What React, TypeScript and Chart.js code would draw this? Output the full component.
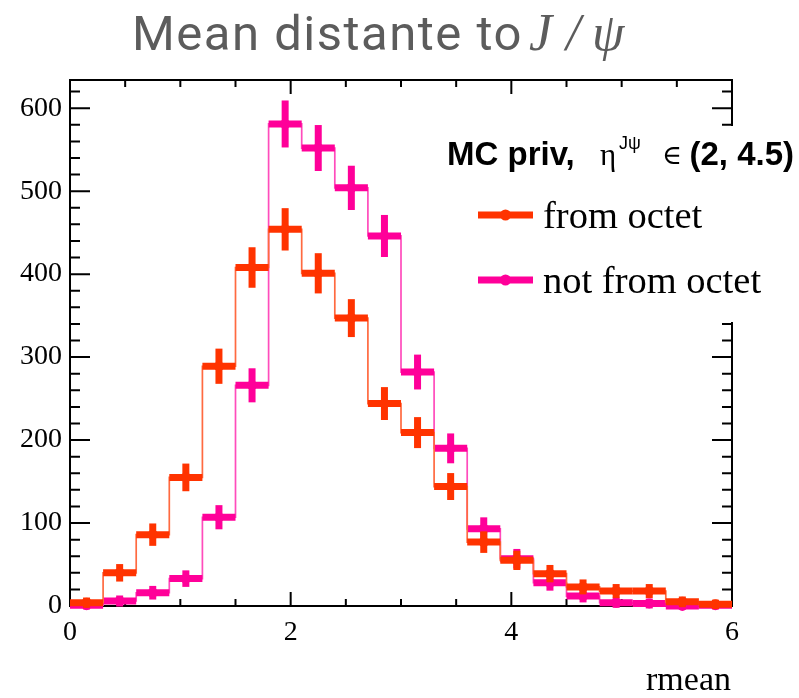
import React, { useEffect, useRef } from 'react';
import { Chart, registerables } from 'chart.js';

Chart.register(...registerables);

// ---- data ----
const binWidth = 0.3;
const binCenters = [0.15, 0.45, 0.75, 1.05, 1.35, 1.65, 1.95, 2.25, 2.55, 2.85, 3.15, 3.45, 3.75, 4.05, 4.35, 4.65, 4.95, 5.25, 5.55, 5.85];
const fromOctet = [4, 40, 86, 155, 289, 408, 454, 401, 347, 244, 209, 144, 77, 55, 39, 23, 18, 18, 5, 2];
const notFromOctet = [1, 6, 16, 33, 107, 266, 581, 552, 504, 446, 282, 190, 93, 57, 28, 12, 4, 3, 0, 1];
const seriesLabels = ['from octet', 'not from octet'];
const xRange = [0, 6];
const yRange = [0, 634];
const xTickValues = [0, 2, 4, 6];
const yTickValues = [0, 100, 200, 300, 400, 500, 600];
const xMajorStep = 2;
const xMinorStep = 0.5;
const yMajorStep = 100;
const yMinorStep = 20;
const titleMain = 'Mean distante to';
const titleMath = ['J', '/', 'ψ'];
const xTitle = 'rmean';

const ORANGE = '#ff3300';
const PINK = '#ff0099';
const ORANGE_LINE = '#ff6a40';
const PINK_LINE = '#ff4cbc';
const seriesColors = [ORANGE, PINK];
const seriesLineColors = [ORANGE_LINE, PINK_LINE];
const seriesValues = [fromOctet, notFromOctet];

const histPlugin = {
  id: 'histPlugin',
  beforeDatasetsDraw(chart: any) {
    const { ctx, chartArea: a, scales } = chart;
    const xs = scales.x, ys = scales.y;
    ctx.save();
    ctx.strokeStyle = '#000';
    ctx.lineWidth = 2;
    ctx.strokeRect(a.left, a.top, a.right - a.left, a.bottom - a.top);
    ctx.beginPath();
    for (let v = xRange[0]; v <= xRange[1] + 1e-9; v += xMinorStep) {
      const px = xs.getPixelForValue(v);
      const major = Math.abs(v / xMajorStep - Math.round(v / xMajorStep)) < 1e-6;
      const len = major ? 14 : 7;
      ctx.moveTo(px, a.bottom);
      ctx.lineTo(px, a.bottom - len);
      ctx.moveTo(px, a.top);
      ctx.lineTo(px, a.top + len);
    }
    for (let v = yRange[0]; v <= yRange[1] + 1e-9; v += yMinorStep) {
      const py = ys.getPixelForValue(v);
      const major = v % yMajorStep === 0;
      const len = major ? 20 : 10;
      ctx.moveTo(a.left, py);
      ctx.lineTo(a.left + len, py);
      ctx.moveTo(a.right, py);
      ctx.lineTo(a.right - len, py);
    }
    ctx.stroke();
    ctx.restore();
  },
  afterDatasetDraw(chart: any, args: any) {
    const idx = args.index;
    const vals = seriesValues[idx];
    const color = seriesColors[idx];
    const { ctx, scales } = chart;
    const xs = scales.x, ys = scales.y;
    ctx.save();
    ctx.strokeStyle = color;
    ctx.fillStyle = color;
    ctx.lineWidth = 7;
    ctx.lineCap = 'square';
    for (let i = 0; i < binCenters.length; i++) {
      const c = binCenters[i];
      const v = vals[i];
      const err = Math.sqrt(v);
      const xl = xs.getPixelForValue(c - binWidth / 2);
      const xr = xs.getPixelForValue(c + binWidth / 2);
      const xc = xs.getPixelForValue(c);
      const yc = ys.getPixelForValue(v);
      ctx.beginPath();
      ctx.moveTo(xl + 3.5, yc);
      ctx.lineTo(xr - 3.5, yc);
      ctx.stroke();
      if (err > 0) {
        ctx.beginPath();
        ctx.moveTo(xc, ys.getPixelForValue(v + err));
        ctx.lineTo(xc, ys.getPixelForValue(v - err));
        ctx.stroke();
      }
      ctx.beginPath();
      ctx.arc(xc, yc, 5, 0, Math.PI * 2);
      ctx.fill();
    }
    ctx.restore();
  },
  afterDraw(chart: any) {
    const { ctx, chartArea: a } = chart;
    ctx.save();
    // title
    ctx.fillStyle = '#5c5c5c';
    ctx.textBaseline = 'alphabetic';
    ctx.textAlign = 'left';
    ctx.font = '49px Roboto';
    (ctx as any).letterSpacing = '1.5px';
    ctx.fillText(titleMain, 132, 50);
    (ctx as any).letterSpacing = '0px';
    ctx.font = 'italic 52px "Liberation Serif"';
    const mathX = [529, 566, 592];
    titleMath.forEach((ch, i) => ctx.fillText(ch, mathX[i], 50));
    // legend box
    ctx.fillStyle = '#fff';
    ctx.fillRect(438, 126, 799 - 438, 322 - 126);
    // header
    ctx.fillStyle = '#000';
    const hy = 165;
    ctx.font = 'bold 33px "Liberation Sans"';
    ctx.fillText('MC priv,', 447, hy);
    ctx.font = '31px "Liberation Serif"';
    ctx.fillText('η', 600, hy);
    ctx.font = '18px "Liberation Sans"';
    ctx.fillText('Jψ', 619, hy - 16);
    ctx.font = '27px "DejaVu Serif"';
    ctx.fillText('∈', 662, hy - 1);
    ctx.font = 'bold 33px "Liberation Sans"';
    ctx.textAlign = 'right';
    ctx.fillText('(2, 4.5)', 794, hy);
    ctx.textAlign = 'left';
    // entries
    const entryY = [215, 280];
    for (let k = 0; k < 2; k++) {
      const ly = entryY[k];
      ctx.strokeStyle = seriesColors[k];
      ctx.fillStyle = seriesColors[k];
      ctx.lineWidth = 7;
      ctx.lineCap = 'butt';
      ctx.beginPath();
      ctx.moveTo(478, ly);
      ctx.lineTo(533, ly);
      ctx.stroke();
      ctx.beginPath();
      ctx.arc(505.5, ly, 5.5, 0, Math.PI * 2);
      ctx.fill();
      ctx.fillStyle = '#000';
      ctx.font = '38.5px "Liberation Serif"';
      ctx.fillText(seriesLabels[k], 543, ly + 13);
    }
    // x axis title
    ctx.font = '34px "Liberation Serif"';
    ctx.textAlign = 'right';
    ctx.fillText(xTitle, a.right - 1, 690);
    ctx.restore();
  },
};

export default function App() {
  const ref = useRef<HTMLCanvasElement | null>(null);
  useEffect(() => {
    document.body.style.margin = '0';
    const canvas = ref.current!;
    const tickFont = { family: '"Liberation Serif"', size: 28 };
    const chart = new Chart(canvas, {
      type: 'line',
      data: {
        datasets: seriesValues.map((vals, k) => ({
          label: seriesLabels[k],
          data: binCenters.map((c, i) => ({ x: c, y: vals[i] })),
          stepped: 'middle' as const,
          borderColor: seriesLineColors[k],
          borderWidth: 1.7,
          pointRadius: 0,
          fill: false,
          clip: false as any,
        })),
      },
      options: {
        responsive: false,
        animation: false,
        devicePixelRatio: 1,
        layout: { padding: { top: 80, right: 67, left: 0, bottom: 0 } },
        plugins: {
          legend: { display: false },
          title: { display: false },
          tooltip: { enabled: false },
        },
        scales: {
          x: {
            type: 'linear',
            min: xRange[0],
            max: xRange[1],
            grid: { display: false, drawTicks: false },
            border: { display: false },
            ticks: { font: tickFont, color: '#000', padding: 10, maxRotation: 0, autoSkip: false },
            afterBuildTicks: (s: any) => { s.ticks = xTickValues.map((v) => ({ value: v })); },
            afterFit: (s: any) => { s.height = 92; },
          },
          y: {
            type: 'linear',
            min: yRange[0],
            max: yRange[1],
            grid: { display: false, drawTicks: false },
            border: { display: false },
            ticks: { font: tickFont, color: '#000', padding: 8, autoSkip: false },
            afterBuildTicks: (s: any) => { s.ticks = yTickValues.map((v) => ({ value: v })); },
            afterFit: (s: any) => { s.width = 70; },
          },
        },
      },
      plugins: [histPlugin],
    });
    return () => chart.destroy();
  }, []);
  return (
    <div style={{ width: 799, height: 698 }}>
      <canvas ref={ref} width={799} height={698} style={{ display: 'block' }} />
    </div>
  );
}
